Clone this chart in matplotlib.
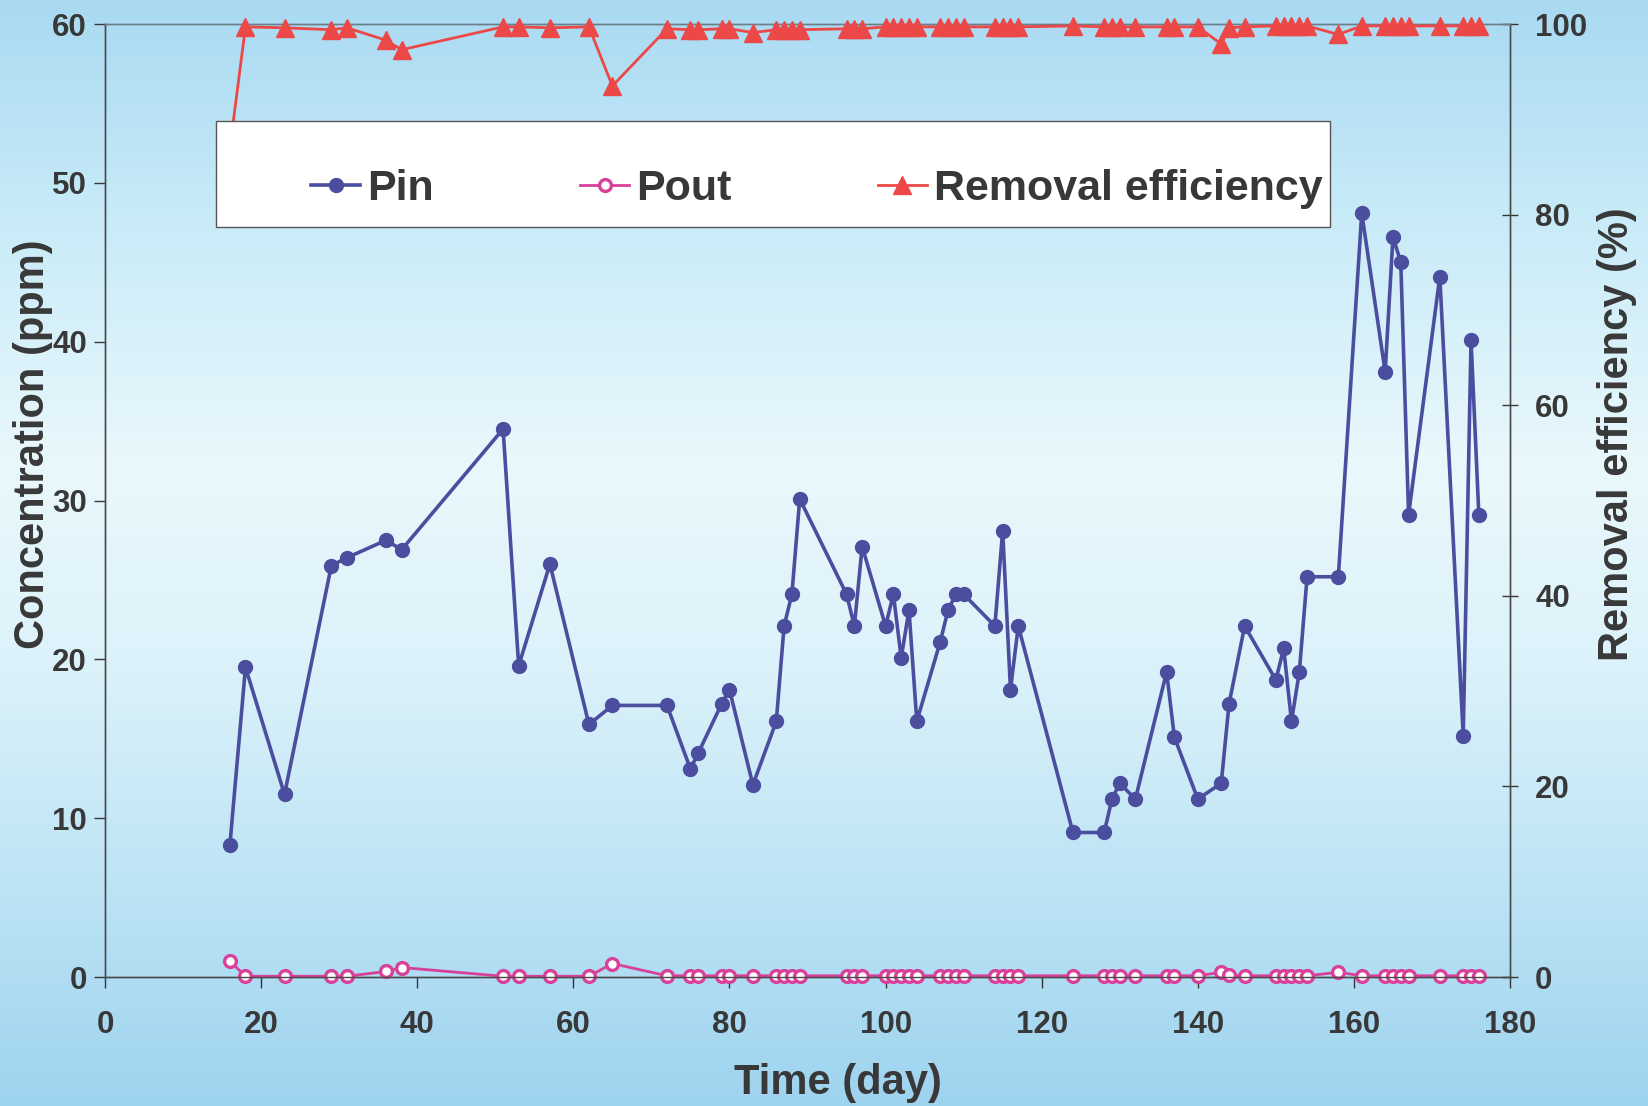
import numpy as np
import matplotlib
matplotlib.use("Agg")
import matplotlib.pyplot as plt
from matplotlib.colors import LinearSegmentedColormap
from matplotlib.patches import Rectangle

plt.rcParams['font.family'] = ['Liberation Sans', 'DejaVu Sans']
plt.rcParams['font.weight'] = 'bold'
plt.rcParams['axes.labelweight'] = 'bold'

# sampling days and measured values
days = [16, 18, 23, 29, 31, 36, 38, 51, 53, 57, 62, 65, 72, 75, 76, 79, 80, 83,
        86, 87, 88, 89, 95, 96, 97, 100, 101, 102, 103, 104, 107, 108, 109, 110,
        114, 115, 116, 117, 124, 128, 129, 130, 132, 136, 137, 140, 143, 144, 146,
        150, 151, 152, 153, 154, 158, 161, 164, 165, 166, 167, 171, 174, 175, 176]

p_in = [8.3, 19.5, 11.5, 25.9, 26.4, 27.5, 26.9, 34.5, 19.6, 26.0, 15.9, 17.1,
        17.1, 13.1, 14.1, 17.2, 18.1, 12.1, 16.1, 22.1, 24.1, 30.1, 24.1, 22.1,
        27.1, 22.1, 24.1, 20.1, 23.1, 16.1, 21.1, 23.1, 24.1, 24.1, 22.1, 28.1,
        18.1, 22.1, 9.1, 9.1, 11.2, 12.2, 11.2, 19.2, 15.1, 11.2, 12.2, 17.2,
        22.1, 18.7, 20.7, 16.1, 19.2, 25.2, 25.2, 48.1, 38.1, 46.6, 45.0, 29.1,
        44.1, 15.2, 40.1, 29.1]

p_out = [1.0, 0.05, 0.05, 0.05, 0.05, 0.35, 0.6, 0.05, 0.05, 0.05, 0.05, 0.85,
         0.08, 0.08, 0.08, 0.08, 0.08, 0.08, 0.08, 0.08, 0.08, 0.08, 0.08, 0.08,
         0.08, 0.08, 0.08, 0.08, 0.08, 0.08, 0.08, 0.08, 0.08, 0.08, 0.08, 0.08,
         0.08, 0.08, 0.08, 0.08, 0.08, 0.08, 0.08, 0.08, 0.08, 0.08, 0.3, 0.1,
         0.08, 0.08, 0.08, 0.08, 0.08, 0.08, 0.3, 0.08, 0.08, 0.08, 0.08, 0.08,
         0.08, 0.08, 0.08, 0.08]

removal = [87.0, 99.7, 99.6, 99.4, 99.6, 98.3, 97.3, 99.7, 99.7, 99.6, 99.7, 93.5,
           99.5, 99.4, 99.4, 99.5, 99.5, 99.1, 99.4, 99.4, 99.4, 99.4, 99.5, 99.5,
           99.5, 99.7, 99.7, 99.7, 99.7, 99.7, 99.7, 99.7, 99.7, 99.7, 99.7, 99.7,
           99.7, 99.7, 99.8, 99.7, 99.7, 99.7, 99.7, 99.7, 99.7, 99.7, 97.9, 99.6,
           99.7, 99.8, 99.8, 99.8, 99.8, 99.8, 98.9, 99.8, 99.8, 99.8, 99.8, 99.8,
           99.8, 99.8, 99.8, 99.8]

text_col = '#383838'
blue = '#4b4e9e'
pink = '#d8409a'
red = '#ec4848'

fig = plt.figure(figsize=(16.48, 11.06), dpi=100)

# soft vertical gradient behind everything
bg = fig.add_axes([0, 0, 1, 1], zorder=-10)
cmap = LinearSegmentedColormap.from_list(
    'bg', [(0.0, '#a9daf2'), (0.2, '#c9ebf8'), (0.42, '#e9f8fc'),
           (0.6, '#dcf2fa'), (0.8, '#bde4f5'), (1.0, '#9ed3ef')])
grad = np.linspace(0, 1, 256).reshape(-1, 1)
bg.imshow(grad, aspect='auto', cmap=cmap, extent=[0, 1, 0, 1], origin='upper')
bg.axis('off')

ax = fig.add_axes([0.0637, 0.1166, 0.8526, 0.8617])
ax.set_facecolor('none')
ax2 = ax.twinx()

l_in, = ax.plot(days, p_in, '-o', color=blue, lw=2.6, ms=10, zorder=3, label='Pin')
l_out, = ax.plot(days, p_out, '-o', color=pink, lw=2.0, ms=8.5, mfc='white', mec=pink,
                 mew=2.4, zorder=3, clip_on=False, label='Pout')
l_eff, = ax2.plot(days, removal, '-^', color=red, lw=2.0, ms=13, zorder=3,
                  clip_on=False, label='Removal efficiency')

ax.set_xlim(0, 180)
ax.set_ylim(0, 60)
ax2.set_ylim(0, 100)
ax.set_xticks(range(0, 181, 20))
ax.set_yticks(range(0, 61, 10))
ax2.set_yticks(range(0, 101, 20))

for a in (ax, ax2):
    for s in a.spines.values():
        s.set_color('#4a4a4a')
        s.set_linewidth(1.0)
ax.spines['top'].set_color('#6c7f88')
ax2.spines['top'].set_color('#6c7f88')

ax.tick_params(axis='both', labelsize=22.5, colors=text_col, length=8, width=1,
               direction='out', pad=5)
ax.tick_params(axis='x', pad=16)
ax2.tick_params(axis='y', labelsize=22.5, colors=text_col, length=12, width=1,
                direction='inout', pad=12)

ax.set_xlabel('Time (day)', fontsize=30, color=text_col)
ax.xaxis.set_label_coords(0.522, -0.09)
ax.set_ylabel('Concentration (ppm)', fontsize=30, color=text_col)
ax.yaxis.set_label_coords(-0.037, 0.559)
ax2.set_ylabel('Removal efficiency (%)', fontsize=30, color=text_col)
ax2.yaxis.set_label_coords(1.062, 0.570)

# white legend panel over the plot area
box = Rectangle((0.079, 0.787), 0.793, 0.111, transform=ax2.transAxes,
                facecolor='white', edgecolor='#555555', lw=1.0, zorder=4)
ax2.add_patch(box)
leg = ax2.legend(handles=[l_in, l_out, l_eff], loc='center left',
                 bbox_to_anchor=(0.1466, 0.827), ncol=3, frameon=False,
                 fontsize=31, handlelength=1.15, handletextpad=0.15,
                 columnspacing=3.4, borderpad=0, borderaxespad=0)
leg.set_zorder(5)
for t in leg.get_texts():
    t.set_color(text_col)

fig.savefig('out.png', dpi=100)
